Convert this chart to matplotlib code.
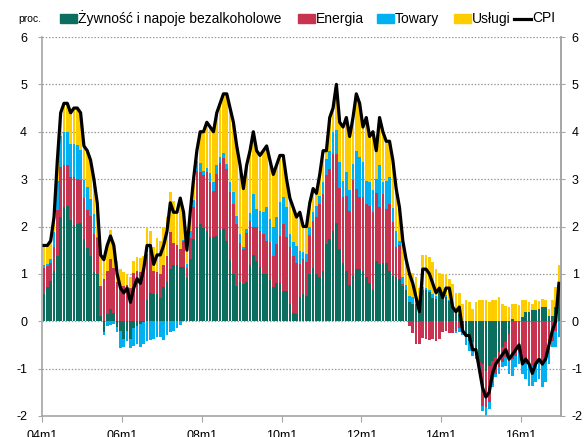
import numpy as np
import matplotlib
matplotlib.use("Agg")
import matplotlib.pyplot as plt
from matplotlib.patches import Rectangle
from matplotlib.lines import Line2D

plt.rcParams['font.family'] = ['Liberation Sans', 'DejaVu Sans']
plt.rcParams['axes.unicode_minus'] = False

# ---------------- data (monthly, 2004m1 .. 2016m12) ----------------
tick_labels = ["04m1", "06m1", "08m1", "10m1", "12m1", "14m1", "16m1"]
series_names = ["Żywność i napoje bezalkoholowe", "Energia", "Towary", "Usługi"]

cpi = [
    1.6, 1.6, 1.7, 2.2, 3.4, 4.4, 4.6, 4.6, 4.4, 4.5, 4.5, 4.4,
    3.7, 3.6, 3.4, 3.0, 2.5, 1.4, 1.3, 1.6, 1.8, 1.6, 1.0, 0.7,
    0.6, 0.7, 0.4, 0.7, 0.9, 0.8, 1.1, 1.6, 1.6, 1.2, 1.4, 1.4,
    1.6, 1.9, 2.5, 2.3, 2.3, 2.6, 2.3, 1.5, 2.3, 3.0, 3.6, 4.0,
    4.0, 4.2, 4.1, 4.0, 4.4, 4.6, 4.8, 4.8, 4.5, 4.2, 3.7, 3.3,
    2.8, 3.3, 3.6, 4.0, 3.6, 3.5, 3.6, 3.7, 3.4, 3.1, 3.3, 3.5,
    3.5, 3.0, 2.6, 2.4, 2.2, 2.3, 2.0, 2.0, 2.5, 2.8, 2.7, 3.1,
    3.6, 3.6, 4.3, 4.5, 5.0, 4.2, 4.1, 4.3, 3.9, 4.3, 4.8, 4.6,
    4.1, 4.3, 3.9, 4.0, 3.6, 4.3, 4.0, 3.8, 3.8, 3.4, 2.8, 2.4,
    1.7, 1.3, 1.0, 0.8, 0.5, 0.2, 1.1, 1.1, 1.0, 0.8, 0.6, 0.7,
    0.5, 0.7, 0.7, 0.3, 0.2, 0.3, -0.2, -0.3, -0.3, -0.6, -0.6, -1.0,
    -1.4, -1.6, -1.5, -1.1, -0.9, -0.8, -0.7, -0.6, -0.8, -0.7, -0.6, -0.5,
    -0.9, -0.8, -0.9, -1.1, -0.9, -0.8, -0.9, -0.8, -0.5, -0.2, 0.0, 0.8,
]

zywnosc = [
    0.58, 0.73, 0.86, 1.06, 1.38, 2.19, 2.41, 2.43, 2.14, 2.04, 2.06, 2.08,
    1.73, 1.54, 1.37, 1.05, 1.00, 0.12, -0.23, 0.15, 0.26, 0.18, -0.12, -0.20,
    -0.37, -0.20, -0.37, -0.15, -0.10, -0.05, -0.02, 0.44, 0.60, 0.58, 0.58, 0.50,
    0.72, 0.83, 1.10, 1.18, 1.18, 1.14, 1.14, 0.92, 1.31, 1.73, 1.98, 2.05,
    1.96, 1.90, 1.77, 1.77, 1.80, 1.93, 1.95, 1.70, 1.29, 0.99, 0.75, 0.82,
    0.79, 0.82, 1.18, 1.39, 1.27, 1.14, 0.99, 1.00, 0.87, 0.72, 0.81, 0.81,
    0.64, 0.64, 0.36, 0.18, 0.15, 0.51, 0.58, 0.54, 1.00, 1.13, 0.99, 0.94,
    1.07, 1.63, 1.73, 1.90, 2.08, 1.52, 1.24, 1.07, 0.77, 0.96, 1.10, 1.10,
    1.07, 0.94, 0.80, 0.67, 1.28, 1.20, 1.22, 1.22, 1.07, 0.95, 0.93, 0.90,
    0.75, 0.65, 0.40, 0.37, 0.37, 0.20, 0.67, 0.65, 0.61, 0.50, 0.47, 0.61,
    0.50, 0.52, 0.42, 0.32, 0.25, 0.15, -0.20, -0.30, -0.41, -0.44, -0.62, -0.87,
    -0.90, -1.04, -0.94, -0.83, -0.76, -0.65, -0.55, -0.44, -0.27, 0.05, 0.01, 0.00,
    0.08, 0.19, 0.19, 0.23, 0.24, 0.26, 0.30, 0.30, 0.12, 0.12, 0.30, 0.75,
]

energia = [
    0.55, 0.44, 0.38, 0.51, 0.96, 1.07, 0.89, 0.86, 0.91, 1.00, 0.95, 0.90,
    0.88, 0.81, 0.86, 0.79, 0.75, 0.63, 0.89, 0.91, 1.06, 0.95, 0.82, 0.75,
    0.75, 0.77, 0.70, 1.02, 1.06, 1.03, 1.13, 0.97, 0.90, 0.49, 0.45, 0.50,
    0.47, 0.55, 0.78, 0.48, 0.42, 0.38, 0.56, 0.20, 0.45, 0.68, 1.20, 1.10,
    1.12, 1.25, 1.16, 0.98, 1.31, 1.40, 1.49, 1.51, 1.43, 1.48, 1.30, 0.84,
    0.73, 1.05, 0.93, 0.60, 0.71, 0.77, 0.85, 0.70, 0.80, 0.65, 0.82, 0.99,
    1.42, 1.13, 1.21, 1.19, 1.07, 0.70, 0.73, 0.72, 0.82, 0.99, 1.21, 1.53,
    1.61, 1.46, 1.48, 1.63, 1.45, 1.30, 1.38, 1.57, 1.56, 2.02, 1.69, 1.52,
    1.55, 1.54, 1.64, 1.63, 1.42, 1.22, 1.46, 1.15, 1.41, 1.15, 0.63, 0.70,
    0.03, 0.00, -0.10, -0.25, -0.48, -0.48, -0.35, -0.38, -0.39, -0.37, -0.41, -0.38,
    -0.23, -0.20, -0.25, -0.25, -0.20, -0.15, 0.00, 0.00, 0.00, 0.00, 0.00, -0.07,
    -0.88, -0.78, -0.77, -0.39, -0.35, -0.32, -0.32, -0.32, -0.56, -0.80, -0.73, -0.62,
    -0.83, -0.90, -0.94, -0.94, -0.90, -0.76, -0.94, -0.76, -0.48, -0.41, -0.20, 0.00,
]

towary = [
    0.05, 0.03, 0.07, 0.31, 0.62, 0.66, 0.70, 0.70, 0.70, 0.70, 0.72, 0.64,
    0.38, 0.48, 0.35, 0.42, 0.03, 0.00, -0.06, -0.10, -0.08, -0.05, -0.10, -0.36,
    -0.18, -0.22, -0.20, -0.38, -0.38, -0.50, -0.45, -0.42, -0.40, -0.37, -0.34, -0.33,
    -0.40, -0.30, -0.23, -0.20, -0.15, -0.08, 0.02, 0.08, 0.15, 0.14, 0.21, 0.20,
    0.09, 0.08, 0.20, 0.18, 0.18, 0.14, 0.11, 0.11, 0.21, 0.25, 0.18, 0.19,
    0.05, 0.07, 0.18, 0.69, 0.39, 0.42, 0.46, 0.71, 0.49, 0.61, 0.57, 0.71,
    0.56, 0.64, 0.28, 0.30, 0.36, 0.28, 0.16, 0.16, 0.17, 0.18, 0.24, 0.18,
    0.25, 0.33, 0.39, 0.46, 0.50, 0.54, 0.34, 0.51, 0.43, 0.34, 0.81, 0.84,
    0.74, 0.48, 0.49, 0.46, 0.30, 0.87, 0.25, 0.59, 0.56, 0.30, 0.35, 0.10,
    0.15, 0.12, 0.13, 0.14, 0.12, 0.05, 0.05, 0.05, 0.06, 0.08, 0.06, 0.05,
    0.04, 0.04, 0.03, 0.02, -0.05, -0.08, -0.10, -0.21, -0.21, -0.29, -0.18, -0.10,
    -0.11, -0.17, -0.14, -0.17, -0.07, -0.14, -0.10, -0.18, -0.28, -0.35, -0.24, -0.28,
    -0.28, -0.32, -0.42, -0.42, -0.39, -0.46, -0.45, -0.53, -0.42, -0.14, -0.35, -0.34,
]

uslugi = [
    0.42, 0.40, 0.39, 0.32, 0.44, 0.48, 0.60, 0.61, 0.65, 0.76, 0.77, 0.78,
    0.71, 0.77, 0.82, 0.74, 0.72, 0.65, 0.45, 0.60, 0.60, 0.55, 0.45, 0.35,
    0.28, 0.22, 0.24, 0.26, 0.30, 0.30, 0.25, 0.59, 0.40, 0.50, 0.72, 0.70,
    0.81, 0.82, 0.84, 0.87, 0.80, 1.08, 0.55, 0.30, 0.39, 0.45, 0.21, 0.65,
    0.83, 0.97, 0.97, 1.07, 1.11, 1.13, 1.25, 1.48, 1.57, 1.48, 1.47, 1.45,
    1.23, 1.36, 1.31, 1.32, 1.23, 1.17, 1.30, 1.29, 1.24, 1.12, 1.10, 0.99,
    0.88, 0.59, 0.75, 0.73, 0.62, 0.81, 0.53, 0.58, 0.51, 0.50, 0.26, 0.45,
    0.67, 0.18, 0.70, 0.51, 0.97, 0.84, 1.14, 1.15, 1.14, 0.98, 1.20, 1.14,
    0.74, 1.34, 0.97, 1.24, 0.60, 1.01, 1.07, 0.84, 0.76, 1.00, 0.89, 0.70,
    0.77, 0.48, 0.50, 0.50, 0.45, 0.45, 0.67, 0.69, 0.69, 0.67, 0.57, 0.35,
    0.46, 0.44, 0.45, 0.45, 0.35, 0.44, 0.37, 0.44, 0.40, 0.26, 0.40, 0.44,
    0.44, 0.44, 0.40, 0.45, 0.44, 0.51, 0.37, 0.33, 0.30, 0.32, 0.36, 0.35,
    0.36, 0.25, 0.21, 0.14, 0.20, 0.16, 0.17, 0.15, 0.14, 0.32, 0.42, 0.43,
]

colors = ["#0B6E5E", "#C8344F", "#00B0F0", "#FFCC00"]

# ---------------- figure ----------------
W, H = 588, 437
fig = plt.figure(figsize=(W / 100, H / 100), dpi=100)
ax_l, ax_r, ax_t, ax_b = 42.4, 560.6, 37.0, 416.0
ax = fig.add_axes([ax_l / W, 1 - ax_b / H, (ax_r - ax_l) / W, (ax_b - ax_t) / H])

n = len(cpi)
x = np.arange(n) + 0.5
pos_base = np.zeros(n)
neg_base = np.zeros(n)
for vals, col in zip([zywnosc, energia, towary, uslugi], colors):
    v = np.asarray(vals, dtype=float)
    p = np.clip(v, 0, None)
    q = np.clip(v, None, 0)
    ax.bar(x, p, width=0.8, bottom=pos_base, color=col, linewidth=0, zorder=2)
    ax.bar(x, q, width=0.8, bottom=neg_base, color=col, linewidth=0, zorder=2)
    pos_base += p
    neg_base += q

ax.plot(x, cpi, color="black", lw=2.3, solid_joinstyle="round", zorder=4)

ax.set_xlim(0, n)
ax.set_ylim(-2, 6)
ax.set_yticks(range(-2, 7))
ax.set_xticks(np.arange(0, n, 24))
ax.set_xticklabels(tick_labels)

for yv in range(-1, 7):
    ax.axhline(yv, color="#9a9a9a", lw=0.9, ls=(0, (1.2, 1.4)), zorder=1)

grey = "#a6a6a6"
for s in ["left", "right", "bottom"]:
    ax.spines[s].set_color(grey)
    ax.spines[s].set_linewidth(1.2)
ax.spines["top"].set_visible(False)

ax.tick_params(axis="y", left=True, right=False, labelleft=True, labelright=False,
               direction="out", length=3, color=grey, labelsize=9, pad=8)
ax.tick_params(axis="x", direction="out", length=4, color=grey, labelsize=9, pad=6)

# right-hand axis labels (same scale)
ax2 = ax.twinx()
ax2.set_ylim(ax.get_ylim())
ax2.set_yticks(range(-2, 7))
for s in ["left", "top", "bottom"]:
    ax2.spines[s].set_visible(False)
ax2.spines["right"].set_color(grey)
ax2.spines["right"].set_linewidth(1.2)
ax2.tick_params(axis="y", direction="out", length=3, color=grey, labelsize=9, pad=5)

# ---------------- legend (manual, figure pixels) ----------------
def fx(px):
    return px / W

def fy(py):
    return 1 - py / H

ly = 18.5
fig.text(fx(18), fy(ly), "proc.", fontsize=7.5, va="center", ha="left")
items = [(60, 78, series_names[0], colors[0]),
         (298, 316, series_names[1], colors[1]),
         (377, 395, series_names[2], colors[2]),
         (454, 472, series_names[3], colors[3])]
for x0, tx, label, col in items:
    fig.patches.append(Rectangle((fx(x0), fy(ly + 4.5)), fx(17), 9 / H,
                                 transform=fig.transFigure, color=col))
    fig.text(fx(tx), fy(ly), label, fontsize=10, va="center", ha="left")
fig.lines.append(Line2D([fx(514), fx(531)], [fy(ly), fy(ly)], color="black",
                        lw=2.3, transform=fig.transFigure))
fig.text(fx(532), fy(ly), "CPI", fontsize=10, va="center", ha="left")

fig.savefig("out.png", dpi=100)
